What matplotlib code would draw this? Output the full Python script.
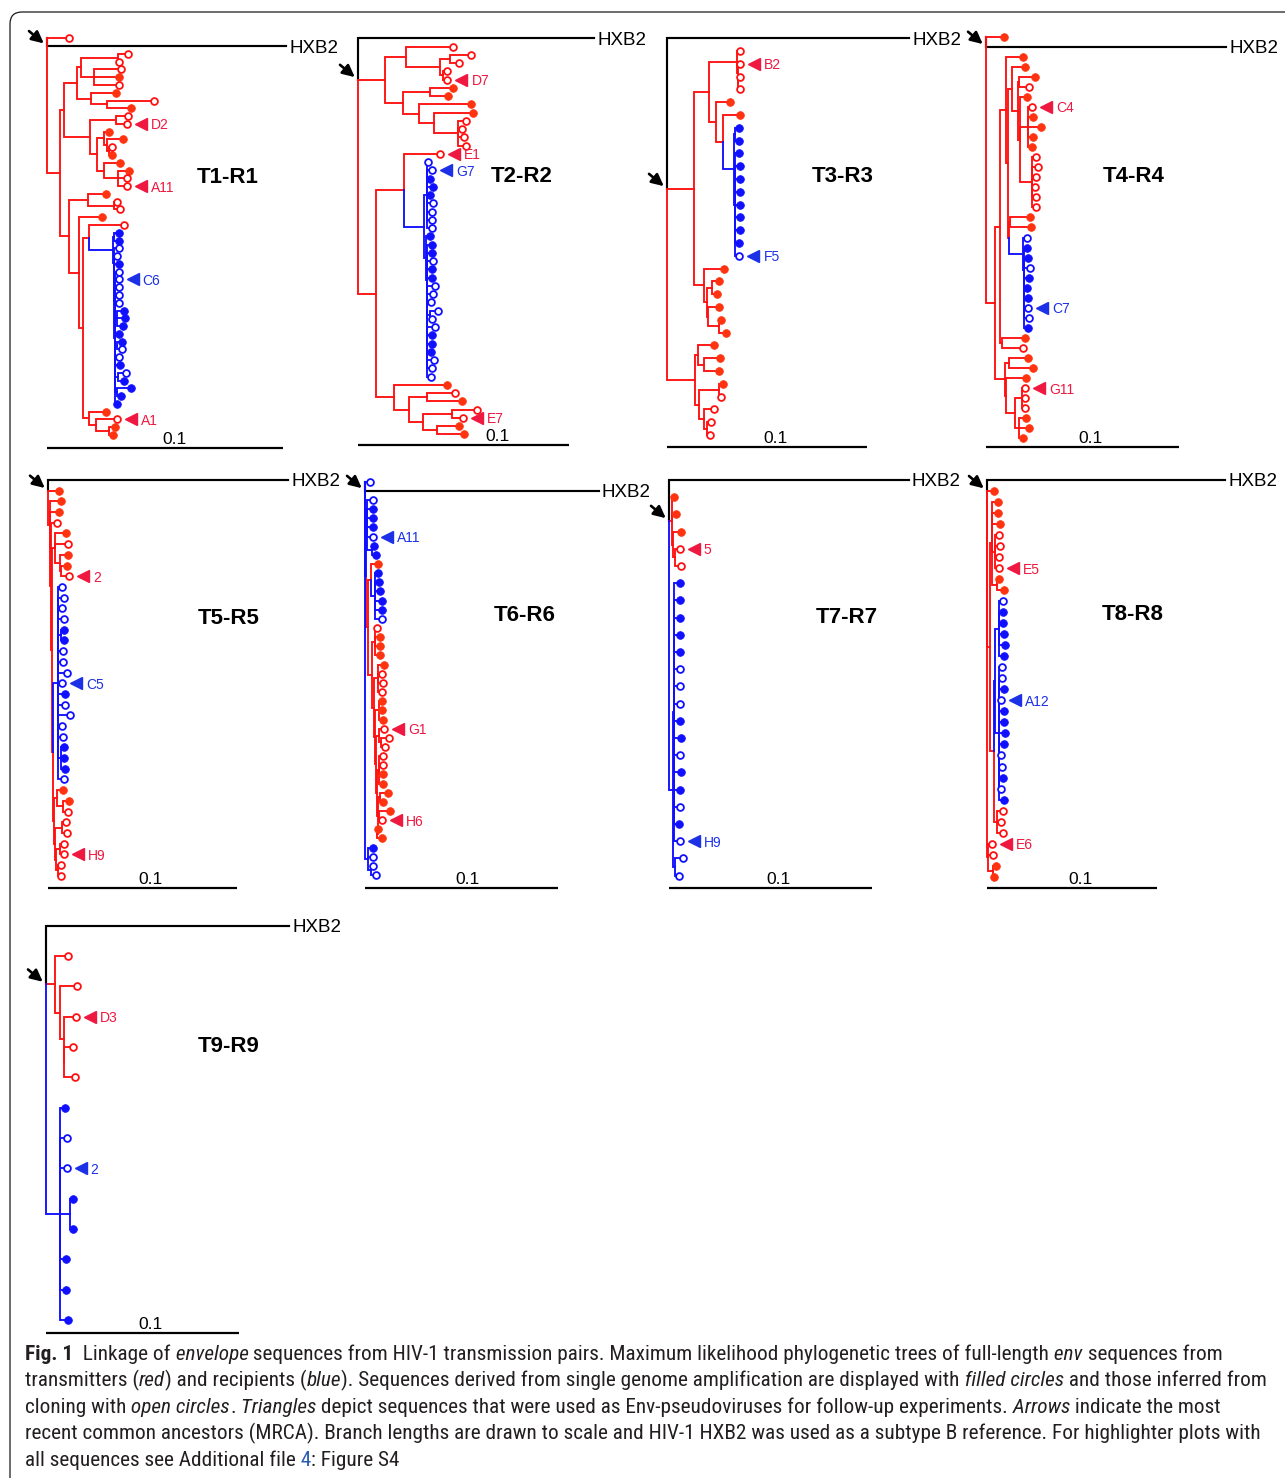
import matplotlib
matplotlib.use("Agg")
import matplotlib.pyplot as plt
from matplotlib import font_manager
from matplotlib.collections import LineCollection
from matplotlib.patches import FancyBboxPatch
from matplotlib.text import Annotation
from matplotlib.transforms import Affine2D, offset_copy

plt.rcParams["font.family"] = ["Liberation Sans", "DejaVu Sans"]

# ---------------------------------------------------------------------------
# Trees.  Nested groups in Newick style; the number after ':' is the node's
# distance from the root in 1e-3 substitutions per site.
# Leaf codes: R / r = transmitter (filled = SGA, open = clone),
#             B / b = recipient (filled = SGA, open = clone), H = HXB2.
# "=X" marks a sequence used as Env-pseudovirus; a letter after ')' fixes
# the colour of a mixed internal branch.
# ---------------------------------------------------------------------------
T1_TREE = """
(r:9.5, H:101.4,
 (
  (
   (((r:34.2, r:30.7):30.0, (r:31.4, R:30.4, r:30.7):20.1):14.4,
    (R:29.3, (r:45.5, R:35.6):25.3):18.7):12.6,
   ((r:34.5, r=D2:33.9):29.3,
    ((R:26.2, (R:32.1, (r:27.4, R:27.6):26.4):25.3):24.3,
     (R:31.1, (R:34.7, r:33.8, r=A11:33.9):30.0):24.3):21.1):18.2
  ):7.4,
  (
   (R:25.0, (r:29.7, r:31.1):28.6):17.3,
   (R:23.3,
    (
     (r:32.5,
      ((B:30.7, B:30.7):28.5,
       (b:30.4, (b:29.6, (B:30.4,
         (b:30.4, b=C6:30.4, b:30.4, b:30.7, b:30.4, (B:32.8, B:33.1, B:32.1):29.5, B:30.7,
          (B:31.8, b:31.8):29.8, b:30.4, B:31.1, (b:33.5, B:32.5):30.0, (B:35.6, B:31.4):29.8,
          B:29.7):28.8
       ):28.6):28.4):28.2
      ):27.9
     ):18.0,
     (R:25.0, (r=A1:29.7, (R:29.0, R:27.9):26.4):20.8):18.0
    ):15.1
   ):13.4
  ):9.2
 ):5.5
)
"""

T2_TREE = """
(H:112,
 (
  (r:45.0, ((r:53.4, r:48.0):43.6, (r:42.0, r=D7:42.4):40.5):38.9):22.9,
  ((R:45.2, R:42.8):33.9, (R:53.4, (R:54.6, (r:51.2, r:49.1, r:50.2, r:51.2):47.6):36.2):29.1):21.3
 ):12.9,
 (
  (r=E1:38.9,
   ((b:33.1, b=G7:35.0, B:34.2, B:35.7, B:34.2, b:35.7, b:35.0, b:35.0, b:35.0):32.5,
    (B:34.2, (B:35.0,
      (B:35.0, b:35.7, B:35.0, B:35.0, b:36.5, b:35.4, b:34.6, (b:38.1, b:35.0):34.0, b:36.5,
       B:35.0, B:35.0, B:34.6, b:36.1, b:35.0, b:34.6):32.8
     ):32.6):32.3
   ):31.5
  ):21.6,
  (R:42.0, ((r:46.0, R:49.1):32.6, ((r:56.2, r=E7:49.9):44.4, (R:48.0, R:50.4):37.3):31.0):24.4):16.9
 ):8.5
)
"""

T3_TREE = """
(H:121,
 (
  ((r:36.3, (r=B2:36.3, (r:36.7, r:36.3):35.7):35.3):35.0,
   (R:31.3, (R:36.7,
     ((B:35.8, B:36.2):34.0,
      (B:36.2, B:36.3, B:36.3, B:36.3, B:36.7, B:36.3, B:36.3, B:35.8, b=F5:36.2):34.2):33.3
    ):28.0):24.7
  ):21.2,
  (R:28.3, ((R:26.2, R:25.0):22.5, (R:26.2, (R:27.0, R:29.5):26.2):20.3):20.0):18.3
 ):13.3,
 ((R:23.3, (R:26.7, R:26.0):18.3):15.3,
  ((R:28.0, r:27.2):25.8, (r:23.7, (r:22.2, r:21.7):20.0):18.3):15.8):13.8
)
"""

T4_TREE = """
(R:9.3, H:124.5,
 (
  (
   (R:19.3,
    (
     (R:20.2,
      ((R:25.3, r:22.2):17.1,
       (R:21.0,
        (r=C4:24.0, R:24.1, R:28.4, R:24.1, R:23.6):21.9,
        (r:25.7, r:26.7, r:25.7, r:25.3, r:25.9, r:25.9):23.6):17.6
      ):16.7
     ):13.6,
     ((R:22.8, R:23.3):12.4,
      (b:21.0, (B:21.0, (B:21.9, b:22.8, B:22.2, B:21.4, B:21.9, b=C7:21.9, b:22.2, B:21.6):19.8):19.5):19.3
     ):12.0
    ):11.5
   ):10.2,
   (R:20.2, r:19.0):8.4
  ):7.2,
  ((R:21.6, R:24.1):12.1,
   (R:20.7, ((r=G11:20.2, r:20.2, r:20.2):18.4, (R:20.5, R:22.4, R:19.3):17.2):15.0):10.3):9.8
 ):4.7
)
"""

T5_TREE = """
(H:127, R:5.6,
 (R:6.9,
  (R:5.6,
   (r:4.8,
    (
     (R:9.5, r:10.4, (R:10.6, (R:10.1, r=2:11.3):7.1):6.2):3.9,
     (
      (b:7.4, b:8.3, b:7.4, b:8.3, (B:8.6, B:8.6):7.0, b:7.8, b:7.9, b:10.1, b=C5:7.4, B:9.2,
       b:8.8, b:11.8, b:7.4, b:7.9, (B:8.6, B:8.3, B:9.2):7.0, b:8.6):5.3,
      ((R:7.9, (R:10.9, r:10.4):8.0):5.0,
       ((r:9.5, r:10.1):7.5, ((r:8.3, r=H9:8.3):6.5, (r:6.9, r:6.9):5.5):4.0):3.5):3.0
     ):2.6
    ):2.1
   ):1.6
  ):1.2
 ):0.9
)
"""

T6_TREE = """
(b:2.6, H:121,
 (
  (b:4.3, B:4.3, B:4.3, B:4.3, b=A11:4.0, (B:4.8, B:5.5):3.5):0.9,
  (
   (R:6.9, (B:6.9, B:7.4, B:7.8, B:8.7, B:9.0, b:8.7):5.2):3.0,
   ((r:6.4, R:7.8, R:7.8, R:7.8):5.0,
    ((R:10.0, r:8.7, r:9.2, r:8.7):6.5,
     ((R:8.7, R:9.0, R:9.2):7.0,
      ((r=G1:10.0, (r:12.5, r:10.4):8.5):7.5,
       ((r:9.5, r:9.2, R:9.2, R:9.2):7.5,
        ((R:12.1, R:9.5):8.0, (R:13.0, r=H6:8.7):7.5, (R:6.9, R:8.7):6.0):6.5
       ):6.0
      ):5.5
     ):5.0
    ):4.5
   ):3.8
  ):1.7
 )B:0.5,
 (B:4.3, b:4.3, (b:4.3, b:5.5):3.0):1.7
)
"""

T7_TREE = """
(H:118,
 (R:2.5, R:3.3, (R:5.7, (r=5:5.3, r:5.7):2.8):2.0):1.5,
 ((B:5.3, B:5.3, B:5.3, B:5.3, B:5.6, b:5.3, b:5.6, b:5.6, B:5.6, B:5.7, b:5.6, B:5.7,
   B:5.3, b:5.3, B:4.9, b=H9:5.3):2.3,
  (b:6.9, b:4.9):2.8):2.0
)
"""

T8_TREE = """
(H:140, R:4.3,
 (
  (R:6.3, R:6.3, R:7.4, (r:6.8, r:7.8, r:7.2, r=E5:7.2):4.5, (R:7.2, R:9.8):6.0):2.9,
  (
   ((b:9.2, B:9.4, B:9.4, B:9.8, B:10.4, B:9.8):7.0,
    (b:8.8, b:8.8, B:9.8, b=A12:8.2, B:9.8, B:9.8, B:10.4, B:9.8, b:8.2, b:8.8, B:9.4,
     b:8.4, B:10.2):7.0):4.9,
   (r:9.2, r:8.4, r:9.2):6.0
  ):3.9
 ):1.6,
 (r=E6:2.9, r:3.5, (R:5.5, R:4.3):3.5):0.5
)
"""

T9_TREE = """
(H:126,
 (r:11.6, (r:15.9, (r=D3:15.5, (r:13.8, r:15.0):9.5):9.3):7.2):4.7,
 (B:9.8, b:10.7, b=2:10.7, (B:14.1, B:13.8):12.5, B:10.2, B:10.2, B:11.2):7.2
)
"""

TREES = [T1_TREE, T2_TREE, T3_TREE, T4_TREE, T5_TREE, T6_TREE, T7_TREE, T8_TREE, T9_TREE]
PAIR_NAMES = ["T1-R1", "T2-R2", "T3-R3", "T4-R4", "T5-R5", "T6-R6", "T7-R7", "T8-R8", "T9-R9"]
REFERENCE_NAME = "HXB2"
SCALE_BAR = 0.1

CAPTION_LINES = [
    [("Fig. 1", "b"), ("  Linkage of", ""), (" envelope", "i"),
     (" sequences from HIV-1 transmission pairs. Maximum likelihood phylogenetic trees of full-length", ""),
     (" env", "i"), (" sequences from", "")],
    [("transmitters (", ""), ("red", "i"), (") and recipients (", ""), ("blue", "i"),
     ("). Sequences derived from single genome amplification are displayed with", ""),
     (" filled circles", "i"), (" and those inferred from", "")],
    [("cloning with", ""), (" open circles", "i"), (".", ""), (" Triangles", "i"),
     (" depict sequences that were used as Env-pseudoviruses for follow-up experiments.", ""),
     (" Arrows", "i"), (" indicate the most", "")],
    [("recent common ancestors (MRCA). Branch lengths are drawn to scale and HIV-1 HXB2 was used "
      "as a subtype B reference. For highlighter plots with", "")],
    [("all sequences see Additional file", ""), (" 4", "l"), (": Figure S4", "")],
]

# ---------------------------------------------------------------------------
# Page layout (pixels from the top-left corner)
# ---------------------------------------------------------------------------
W, H = 1285, 1478
# root x, length of the 0.1 bar, first leaf y, last leaf y, scale-bar y
PANEL_BOXES = [
    (47, 236, 38.3, 435.0, 448),
    (358, 211, 38.3, 434.3, 445),
    (667, 200, 38.3, 435.0, 447),
    (986, 193, 36.7, 438.3, 447),
    (48, 189, 480.0, 875.7, 888),
    (365, 193, 481.7, 875.0, 888),
    (669, 203, 480.0, 875.7, 888),
    (987, 170, 480.0, 876.7, 888),
    (46, 193, 925.7, 1320.0, 1333),
]
TITLE_XY = [(228, 183), (522, 182), (843, 182), (1134, 182), (229, 624),
            (525, 621), (847, 623), (1133, 620), (229, 1052)]
BAR_LABEL_AT = [0.54, 0.66, 0.54, 0.54, 0.54, 0.53, 0.54, 0.55, 0.54]

LINE_COL = {"ref": "black", "red": "#ff1111", "blue": "#1010ff"}
FILL_COL = {"red": "#ff3310", "blue": "#1010ff"}
TAG_COL = {"red": "#ee1840", "blue": "#1c30e6"}
LEAF_SIDE = {"R": "red", "r": "red", "B": "blue", "b": "blue", "H": "ref"}


def parse_tree(text):
    s = "".join(text.split())
    pos = 0

    def read_node():
        nonlocal pos
        node = {"kids": [], "code": None, "tag": None, "force": None, "dist": 0.0}
        if s[pos] == "(":
            pos += 1
            while True:
                node["kids"].append(read_node())
                ch = s[pos]
                pos += 1
                if ch == ")":
                    break
            if pos < len(s) and s[pos] in "RB":
                node["force"] = s[pos]
                pos += 1
        else:
            start = pos
            while s[pos] not in ":,)":
                pos += 1
            code, _, tag = s[start:pos].partition("=")
            node["code"], node["tag"] = code, (tag or None)
        if pos < len(s) and s[pos] == ":":
            pos += 1
            start = pos
            while pos < len(s) and s[pos] not in ",)":
                pos += 1
            node["dist"] = float(s[start:pos]) / 1000.0
        return node

    return read_node()


def place(root):
    leaves = []

    def walk(n):
        if not n["kids"]:
            n["y"] = float(len(leaves))
            leaves.append(n)
        else:
            for k in n["kids"]:
                walk(k)
            n["y"] = 0.5 * (n["kids"][0]["y"] + n["kids"][-1]["y"])

    walk(root)
    ingroup = [k for k in root["kids"] if k["code"] != "H"]
    root["y"] = ingroup[0]["y"]
    return leaves


def paint(n):
    if not n["kids"]:
        n["side"] = LEAF_SIDE[n["code"]]
    else:
        sides = {paint(k) for k in n["kids"]}
        if n["force"]:
            n["side"] = "red" if n["force"] == "R" else "blue"
        elif len(sides) == 1:
            n["side"] = sides.pop()
        else:
            n["side"] = "red"
    return n["side"]


def collect(n, segs):
    for k in n["kids"]:
        segs[k["side"]].append([(n["dist"], n["y"]), (n["dist"], k["y"]), (k["dist"], k["y"])])
        collect(k, segs)


fig = plt.figure(figsize=(W / 100, H / 100), dpi=100)
pix = Affine2D().scale(1.0 / W, 1.0 / H) + fig.transFigure

# rounded frame around the figure
fig.add_artist(FancyBboxPatch((10, -40), 1340, H - 12 + 40,
                              boxstyle="round,pad=0,rounding_size=12",
                              transform=pix, fill=False, ec="#1a1a1a", lw=0.9))

for tree_text, name, box, txy, lab_at in zip(TREES, PAIR_NAMES, PANEL_BOXES, TITLE_XY, BAR_LABEL_AT):
    root = parse_tree(tree_text)
    leaves = place(root)
    paint(root)
    n = len(leaves)
    rx, bar_len, y_first, y_last, bar_y = box
    ax = fig.add_axes([rx / W, 1 - y_last / H, bar_len / W, (y_last - y_first) / H])
    ax.set_xlim(0, SCALE_BAR)
    ax.set_ylim(n - 1, 0)
    ax.set_axis_off()

    segs = {"ref": [], "red": [], "blue": []}
    collect(root, segs)
    for side, lw in (("ref", 1.55), ("red", 1.35), ("blue", 1.35)):
        ax.add_collection(LineCollection(segs[side], colors=LINE_COL[side], linewidths=lw,
                                         capstyle="projecting", joinstyle="miter",
                                         clip_on=False, zorder=2))

    for side in ("red", "blue"):
        filled = [l for l in leaves if l["side"] == side and l["code"].isupper()]
        hollow = [l for l in leaves if l["side"] == side and l["code"].islower()]
        ax.plot([l["dist"] for l in filled], [l["y"] for l in filled], ls="none", marker="o",
                ms=5.5, mfc=FILL_COL[side], mec=FILL_COL[side], mew=0.6, clip_on=False, zorder=3)
        ax.plot([l["dist"] for l in hollow], [l["y"] for l in hollow], ls="none", marker="o",
                ms=4.9, mfc="white", mec=LINE_COL[side], mew=1.3, clip_on=False, zorder=3)

    tri = offset_copy(ax.transData, fig=fig, x=14, y=0, units="dots")
    for l in leaves:
        if l["tag"]:
            c = TAG_COL[l["side"]]
            ax.plot([l["dist"]], [l["y"]], marker="<", ms=8.5, color=c, ls="none",
                    transform=tri, clip_on=False, zorder=3)
            ax.annotate(l["tag"], (l["dist"], l["y"]), xytext=(24, 0), textcoords="offset pixels",
                        va="center_baseline", ha="left", fontsize=10, color=c,
                        annotation_clip=False)

    ref = next(l for l in leaves if l["code"] == "H")
    ax.annotate(REFERENCE_NAME, (ref["dist"], ref["y"]), xytext=(3, 0), textcoords="offset pixels",
                va="center_baseline", ha="left", fontsize=13.5, color="black",
                annotation_clip=False)

    # arrow to the most recent common ancestor
    ay = max(root["y"], ref["y"])
    ax.annotate("", xy=(0, ay), xytext=(-18, 15), textcoords="offset pixels",
                annotation_clip=False,
                arrowprops=dict(arrowstyle="-|>,head_length=0.65,head_width=0.32", color="black",
                                lw=1.9, mutation_scale=11, shrinkA=0, shrinkB=3))

    bar_slot = (bar_y - y_first) / (y_last - y_first) * (n - 1)
    ax.plot([0, SCALE_BAR], [bar_slot, bar_slot], color="black", lw=1.6,
            solid_capstyle="butt", clip_on=False)
    ax.annotate(f"{SCALE_BAR:g}", (SCALE_BAR * lab_at, bar_slot), xytext=(0, 1),
                textcoords="offset pixels", ha="center", va="bottom", fontsize=12.5,
                annotation_clip=False)

    fig.text(txy[0] / W, 1 - txy[1] / H, name, ha="center", va="baseline",
             fontsize=16, fontweight="bold")

# caption
avail = {f.name for f in font_manager.fontManager.ttflist}
cap_font = next((f for f in ("Liberation Sans Narrow", "Roboto Condensed", "Roboto", "Lato")
                 if f in avail), "DejaVu Sans")
CAP_X, CAP_BASE, CAP_STEP = 25, 1360, 26.5
cap_rows = []
for li, runs in enumerate(CAPTION_LINES):
    yb = 1 - (CAP_BASE + li * CAP_STEP) / H
    prev = None
    row = []
    for text, style in runs:
        kw = dict(fontsize=12, fontfamily=cap_font, ha="left", va="baseline",
                  color="#2a5db0" if "l" in style else "#231f20",
                  fontweight="bold" if "b" in style else "normal",
                  fontstyle="italic" if "i" in style else "normal")
        if prev is None:
            t = fig.text(CAP_X / W, yb, text, **kw)
        else:
            t = Annotation(text, xy=(1, yb), xycoords=(prev, "figure fraction"), **kw)
            fig.add_artist(t)
        row.append(t)
        prev = t
    cap_rows.append(row)

renderer = fig.canvas.get_renderer()
row = cap_rows[1]
width = row[-1].get_window_extent(renderer).x1 - row[0].get_window_extent(renderer).x0
k = (1268 - CAP_X) / width
for row in cap_rows:
    for t in row:
        t.set_fontsize(t.get_fontsize() * k)

fig.savefig("out.png", dpi=100)
